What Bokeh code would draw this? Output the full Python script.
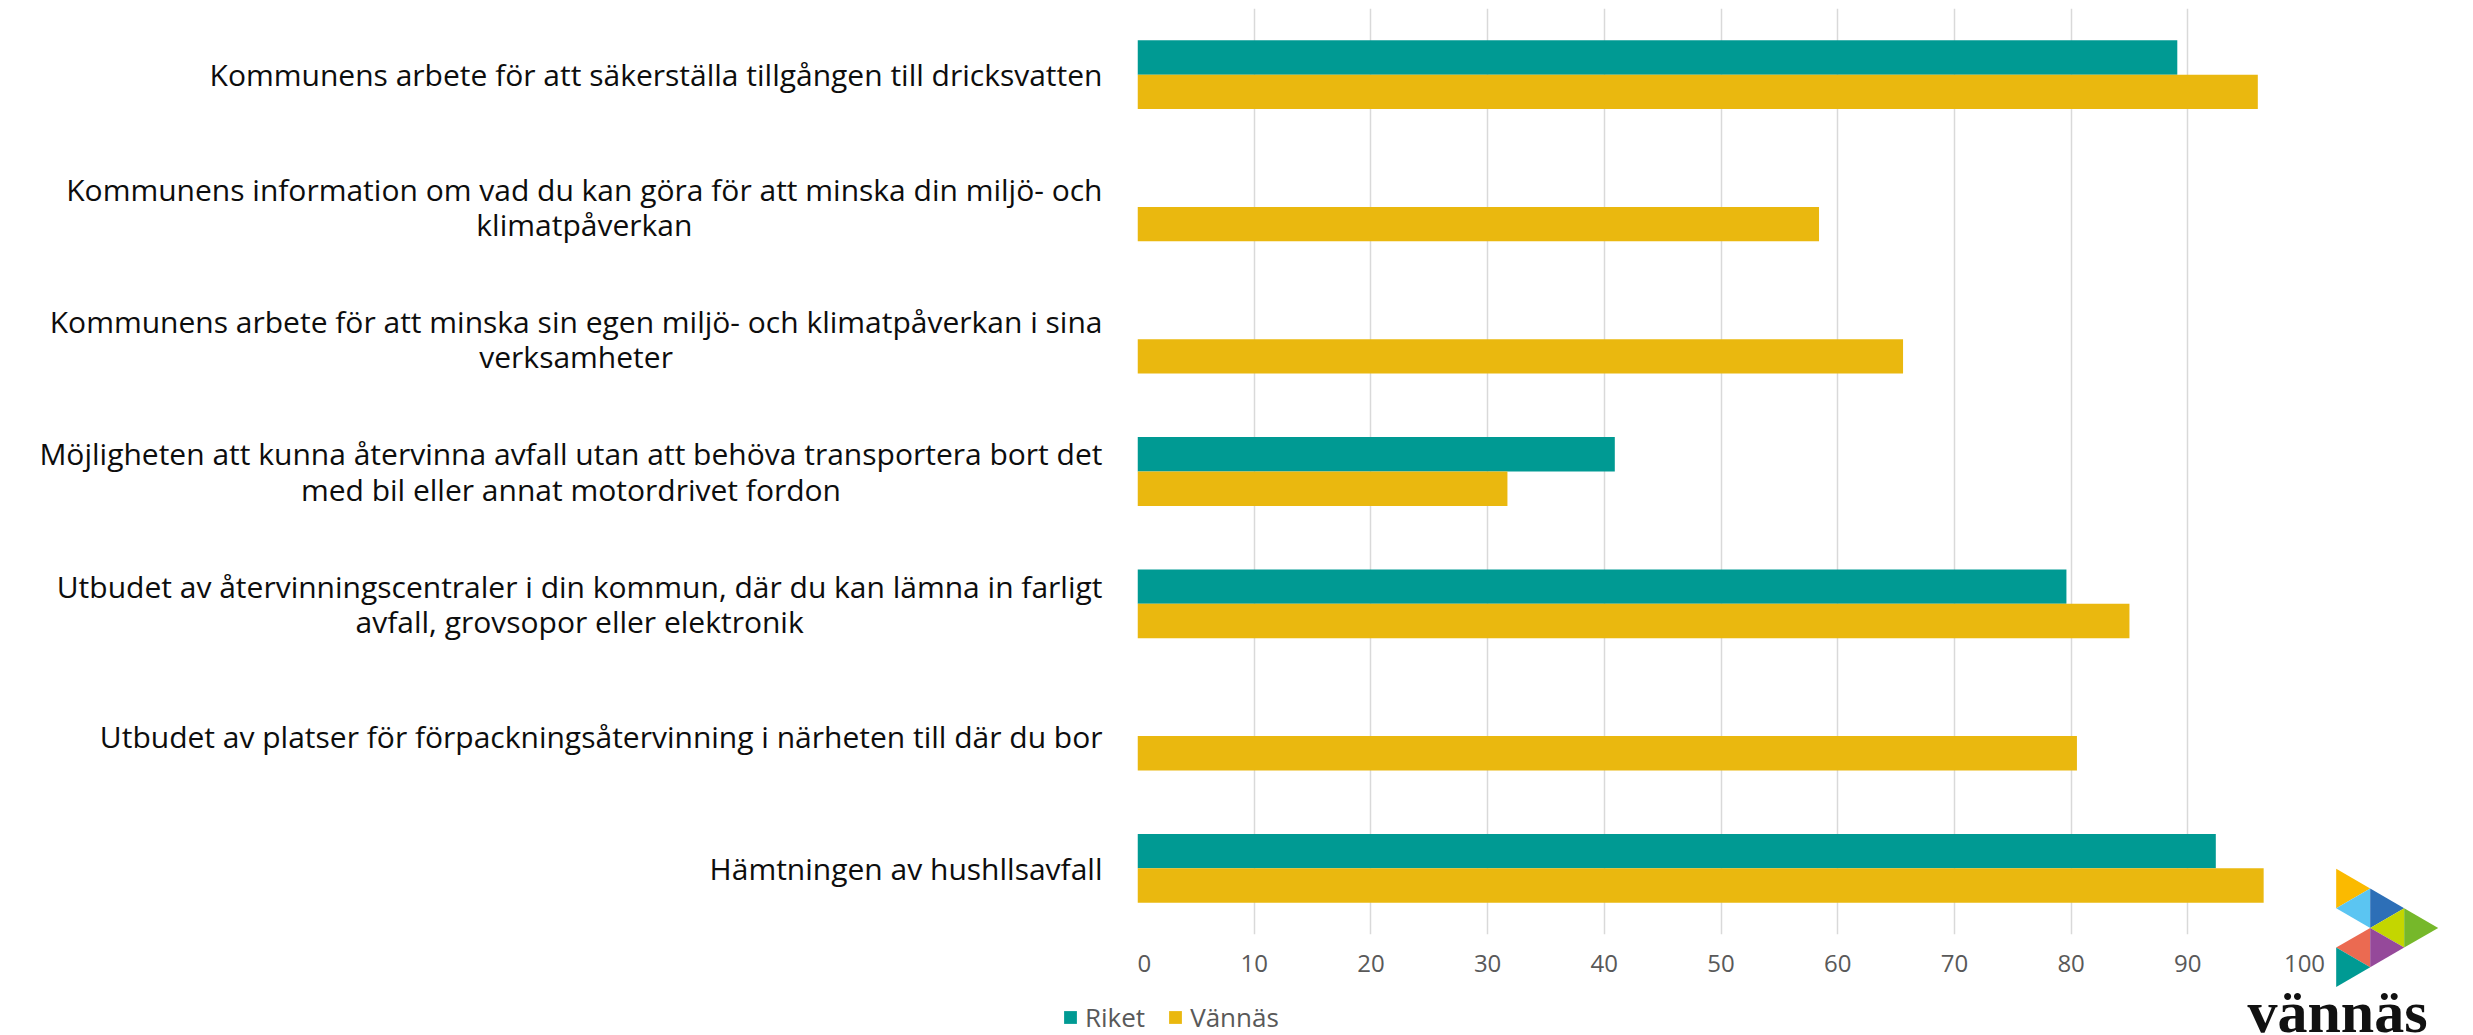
from bokeh.plotting import figure
from bokeh.layouts import row, column
from bokeh.models import (Range1d, FactorRange, ColumnDataSource, FixedTicker,
                          Legend, LegendItem)
from bokeh.core.properties import value
from bokeh.transform import dodge
from bokeh.embed import file_html
from bokeh.resources import INLINE

# ---------------- data ----------------
categories = [
    "Kommunens arbete för att säkerställa tillgången till dricksvatten",
    "Kommunens information om vad du kan göra för att minska din miljö- och\nklimatpåverkan",
    "Kommunens arbete för att minska sin egen miljö- och klimatpåverkan i sina\nverksamheter",
    "Möjligheten att kunna återvinna avfall utan att behöva transportera bort det\nmed bil eller annat motordrivet fordon",
    "Utbudet av återvinningscentraler i din kommun, där du kan lämna in farligt\navfall, grovsopor eller elektronik",
    "Utbudet av platser för förpackningsåtervinning i närheten till där du bor",
    "Hämtningen av hushllsavfall",
]
riket = [89.1, None, None, 40.9, 79.6, None, 92.4]
vannas = [96.0, 58.4, 65.6, 31.7, 85.0, 80.5, 96.5]
series_names = ["Riket", "Vännäs"]
x_ticks = [0, 10, 20, 30, 40, 50, 60, 70, 80, 90, 100]

# logo (decoration): triangles on a grid (col, row) and their colours
logo_triangles = [
    [(0, 0), (1, 1), (0, 2)],
    [(0, 2), (1, 1), (1, 3)],
    [(1, 1), (2, 2), (1, 3)],
    [(1, 3), (2, 2), (2, 4)],
    [(2, 2), (3, 3), (2, 4)],
    [(0, 4), (1, 3), (1, 5)],
    [(1, 3), (2, 4), (1, 5)],
    [(0, 4), (1, 5), (0, 6)],
]
logo_colors = ["#FBBA00", "#5BC5F2", "#2D6FB7", "#C4D600",
               "#76B82A", "#EB6A51", "#95499A", "#009A93"]
logo_text = "vännäs"

# ---------------- styles / layout (page pixels) ----------------
TEAL = "#009A93"
YELLOW = "#EAB80F"
GRID = "#D9D9D9"
TICK_COLOR = "#595959"
FONT = "Open Sans"

TOTAL_W = 2460
LEFT_W = 1137            # label column, frame of chart starts here
FRAME_W = 1167           # 0..100
MAIN_RIGHT = 26
FRAME_TOP = 8
FRAME_H = 926
TOP_H = 988              # height of the upper row
BOTTOM_BORDER = TOP_H - FRAME_TOP - FRAME_H
STRIP_H = 1035 - TOP_H   # legend / logo text strip
LOGO_X0 = LEFT_W + FRAME_W + MAIN_RIGHT
LOGO_W = TOTAL_W - LOGO_X0
X_MAX = 100


def base_fig(**kw):
    f = figure(output_backend="svg", toolbar_location=None,
               x_axis_location=None, y_axis_location=None, **kw)
    f.outline_line_color = None
    f.xgrid.visible = False
    f.ygrid.visible = False
    f.background_fill_color = "white"
    f.border_fill_color = "white"
    return f


y_range = FactorRange(factors=list(reversed(categories)))

# ---- main chart ----
p = figure(output_backend="svg", toolbar_location=None,
           frame_width=FRAME_W, frame_height=FRAME_H,
           x_range=Range1d(0, X_MAX), y_range=y_range, y_axis_location=None,
           min_border_left=0, min_border_right=MAIN_RIGHT,
           min_border_top=FRAME_TOP, min_border_bottom=BOTTOM_BORDER)
p.outline_line_color = None
p.background_fill_color = "white"
p.border_fill_color = "white"

r_cats = [c for c, v in zip(categories, riket) if v is not None]
r_vals = [v for v in riket if v is not None]
src_r = ColumnDataSource(dict(cat=r_cats, val=r_vals))
src_v = ColumnDataSource(dict(cat=categories, val=vannas))

p.hbar(y=dodge("cat", 0.13, range=p.y_range), left=0, right="val", height=0.26,
       source=src_r, fill_color=TEAL, line_color=None)
p.hbar(y=dodge("cat", -0.13, range=p.y_range), left=0, right="val", height=0.26,
       source=src_v, fill_color=YELLOW, line_color=None)

p.xaxis.ticker = FixedTicker(ticks=x_ticks)
p.xgrid.ticker = FixedTicker(ticks=x_ticks)
p.xgrid.grid_line_color = GRID
p.xgrid.grid_line_width = 1.5
p.ygrid.visible = False
xa = p.xaxis[0]
xa.axis_line_color = None
xa.major_tick_line_color = None
xa.minor_tick_line_color = None
xa.major_label_text_font = FONT
xa.major_label_text_font_size = "24px"
xa.major_label_text_color = TICK_COLOR
xa.major_label_standoff = 14

# ---- category labels (shares the categorical y range; same borders) ----
pl = base_fig(width=LEFT_W, height=TOP_H,
              x_range=Range1d(0, 1), y_range=y_range,
              min_border_left=0, min_border_right=0,
              min_border_top=FRAME_TOP, min_border_bottom=BOTTOM_BORDER)
src_lab = ColumnDataSource(dict(cat=categories))
pl.text(x=1, y="cat", text="cat", source=src_lab, x_offset=-35,
        anchor="center_right", text_align="center", text_baseline="middle",
        text_font=value(FONT), text_font_size=value("30px"),
        text_color="#0D0D0D", text_line_height=0.86)

# ---- logo triangles (page pixel space, own column so frame is not synced) ----
plogo = base_fig(width=LOGO_W, height=TOP_H,
                 x_range=Range1d(LOGO_X0, TOTAL_W),
                 y_range=Range1d(TOP_H, 0),
                 min_border_left=0, min_border_right=0,
                 min_border_top=0, min_border_bottom=0)
LX0, LY0, LDX, LDY = 2335.7, 868.3, 34.0, 19.7
plogo.patches(xs=[[LX0 + c * LDX for c, r in tri] for tri in logo_triangles],
              ys=[[LY0 + r * LDY for c, r in tri] for tri in logo_triangles],
              fill_color=logo_colors, line_color=None)

# ---- bottom strip: legend + logo text ----
ps = base_fig(width=TOTAL_W, height=STRIP_H,
              x_range=Range1d(0, TOTAL_W), y_range=Range1d(1035, TOP_H),
              min_border_left=0, min_border_right=0,
              min_border_top=0, min_border_bottom=0)
# legend proxies (zero-size, outside the visible strip)
lr = ps.hbar(y=[0], left=[0], right=[0], height=0, fill_color=TEAL, line_color=None)
lv = ps.hbar(y=[0], left=[0], right=[0], height=0, fill_color=YELLOW, line_color=None)
legend = Legend(items=[LegendItem(label=series_names[0], renderers=[lr]),
                       LegendItem(label=series_names[1], renderers=[lv])],
                orientation="horizontal", location=(1062, 0),
                glyph_width=16, glyph_height=16, label_standoff=7, spacing=22,
                padding=0, margin=0, border_line_color=None,
                background_fill_alpha=0,
                label_text_font=FONT, label_text_font_size="26px",
                label_text_color=TICK_COLOR)
ps.add_layout(legend)
ps.text(x=[2247], y=[1011], text=[logo_text], text_font=value("Liberation Serif"),
        text_font_size=value("60px"), text_font_style="bold",
        text_color="#111111", text_baseline="middle", text_align="left")

layout = column(row(pl, p, column(plogo)), ps)
open("out.html", "w").write(file_html(layout, INLINE))
